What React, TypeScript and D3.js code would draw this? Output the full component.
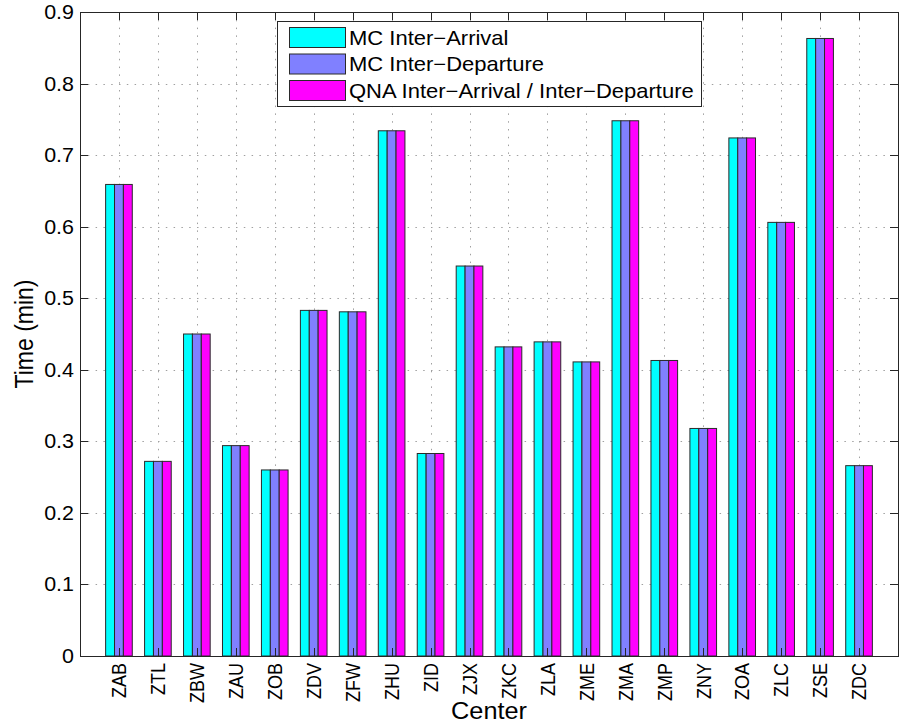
import * as d3 from "d3";
import { useRef, useEffect } from "react";

const centers = [
  "ZAB", "ZTL", "ZBW", "ZAU", "ZOB", "ZDV", "ZFW", "ZHU", "ZID", "ZJX",
  "ZKC", "ZLA", "ZME", "ZMA", "ZMP", "ZNY", "ZOA", "ZLC", "ZSE", "ZDC",
];
const mcInterArrival = [
  0.659, 0.272, 0.450, 0.294, 0.260, 0.483, 0.481, 0.734, 0.283, 0.545,
  0.432, 0.439, 0.411, 0.748, 0.413, 0.318, 0.724, 0.606, 0.863, 0.266,
];
const mcInterDeparture = [
  0.659, 0.272, 0.450, 0.294, 0.260, 0.483, 0.481, 0.734, 0.283, 0.545,
  0.432, 0.439, 0.411, 0.748, 0.413, 0.318, 0.724, 0.606, 0.863, 0.266,
];
const qna = [
  0.659, 0.272, 0.450, 0.294, 0.260, 0.483, 0.481, 0.734, 0.283, 0.545,
  0.432, 0.439, 0.411, 0.748, 0.413, 0.318, 0.724, 0.606, 0.863, 0.266,
];
const seriesNames = [
  "MC Inter\u2212Arrival",
  "MC Inter\u2212Departure",
  "QNA Inter\u2212Arrival / Inter\u2212Departure",
];
const seriesColors = ["#00ffff", "#8080ff", "#ff00ff"];
const yTicks = [0, 0.1, 0.2, 0.3, 0.4, 0.5, 0.6, 0.7, 0.8, 0.9];

export default function App() {
  const svgRef = useRef<SVGSVGElement>(null);

  useEffect(() => {
    if (!svgRef.current) return;
    const svg = d3.select(svgRef.current);
    svg.selectAll("*").remove();

    const width = 904;
    const height = 725;
    const left = 80, right = 898, top = 12, bottom = 656;
    const font = "'Liberation Sans', Arial, sans-serif";
    // the original picture is slightly stretched horizontally
    const sx = 1.1;

    svg.attr("width", width).attr("height", height);

    const x = d3.scaleLinear().domain([0, 21]).range([left, right]);
    const y = d3.scaleLinear().domain([0, 0.9]).range([bottom, top]);
    const series = [mcInterArrival, mcInterDeparture, qna];
    const barW = 0.228;

    svg.append("rect")
      .attr("x", 0).attr("y", 0).attr("width", width).attr("height", height)
      .attr("fill", "#fff");

    // grid
    const grid = svg.append("g")
      .attr("stroke", "#a0a0a0")
      .attr("stroke-width", 1)
      .attr("stroke-dasharray", "1.5,6.3");
    grid.selectAll("line.h")
      .data(yTicks.slice(1, -1))
      .join("line")
      .attr("x1", left).attr("x2", right)
      .attr("y1", (d) => Math.round(y(d)) + 0.5)
      .attr("y2", (d) => Math.round(y(d)) + 0.5);
    grid.selectAll("line.v")
      .data(d3.range(1, 21))
      .join("line")
      .attr("class", "v")
      .attr("x1", (d) => Math.round(x(d)) + 0.5)
      .attr("x2", (d) => Math.round(x(d)) + 0.5)
      .attr("y1", top).attr("y2", bottom);

    // bars
    series.forEach((vals, s) => {
      svg.append("g")
        .selectAll("rect")
        .data(vals)
        .join("rect")
        .attr("x", (_, i) => x(i + 1 + (s - 1.5) * barW))
        .attr("width", x(barW) - x(0))
        .attr("y", (d) => y(d))
        .attr("height", (d) => y(0) - y(d))
        .attr("fill", seriesColors[s])
        .attr("stroke", "#2a2a2a")
        .attr("stroke-width", 1);
    });

    // axes box + ticks
    const axis = svg.append("g").attr("stroke", "#262626").attr("stroke-width", 1);
    axis.append("rect")
      .attr("x", left + 0.5).attr("y", top + 0.5)
      .attr("width", right - left).attr("height", bottom - top)
      .attr("fill", "none");
    yTicks.forEach((t) => {
      const yy = Math.round(y(t)) + 0.5;
      axis.append("line").attr("x1", left).attr("x2", left + 8).attr("y1", yy).attr("y2", yy);
      axis.append("line").attr("x1", right - 8).attr("x2", right).attr("y1", yy).attr("y2", yy);
    });
    d3.range(1, 21).forEach((t) => {
      const xx = Math.round(x(t)) + 0.5;
      axis.append("line").attr("x1", xx).attr("x2", xx).attr("y1", top).attr("y2", top + 8);
      axis.append("line").attr("x1", xx).attr("x2", xx).attr("y1", bottom - 8).attr("y2", bottom);
    });

    // y tick labels
    svg.append("g")
      .selectAll("text")
      .data(yTicks)
      .join("text")
      .attr("transform", (d) => `translate(${left - 6},${y(d)}) scale(${sx},1)`)
      .attr("dy", "0.36em")
      .attr("text-anchor", "end")
      .attr("font-family", font)
      .attr("font-size", 19.5)
      .attr("fill", "#000")
      .text((d) => (d === 0 ? "0" : d3.format(".1f")(d)));

    // x tick labels
    svg.append("g")
      .selectAll("text")
      .data(centers)
      .join("text")
      .attr("transform", (_, i) => `translate(${x(i + 1) + 7.3},663) rotate(-90) scale(1,${sx})`)
      .attr("text-anchor", "end")
      .attr("font-family", font)
      .attr("font-size", 18)
      .attr("fill", "#000")
      .text((d) => d);

    // axis titles
    svg.append("text")
      .attr("transform", `translate(${(left + right) / 2},719) scale(${sx},1)`)
      .attr("text-anchor", "middle")
      .attr("font-family", font)
      .attr("font-size", 23)
      .text("Center");
    svg.append("text")
      .attr("transform", `translate(33,${(top + bottom) / 2}) rotate(-90) scale(1,${sx})`)
      .attr("text-anchor", "middle")
      .attr("font-family", font)
      .attr("font-size", 23)
      .text("Time (min)");

    // legend
    const lg = svg.append("g");
    lg.append("rect")
      .attr("x", 277.5).attr("y", 21.5).attr("width", 424).attr("height", 85)
      .attr("fill", "#fff").attr("stroke", "#262626");
    seriesNames.forEach((name, i) => {
      const yy = 27.5 + i * 26.5;
      lg.append("rect")
        .attr("x", 289.5).attr("y", yy).attr("width", 56).attr("height", 20)
        .attr("fill", seriesColors[i]).attr("stroke", "#2a2a2a");
      lg.append("text")
        .attr("transform", `translate(349,${yy + 10}) scale(${sx},1)`)
        .attr("dy", "0.36em")
        .attr("font-family", font)
        .attr("font-size", 20)
        .text(name);
    });
  }, []);

  return (
    <svg ref={svgRef} style={{ position: "absolute", left: 0, top: 0, display: "block" }} />
  );
}
